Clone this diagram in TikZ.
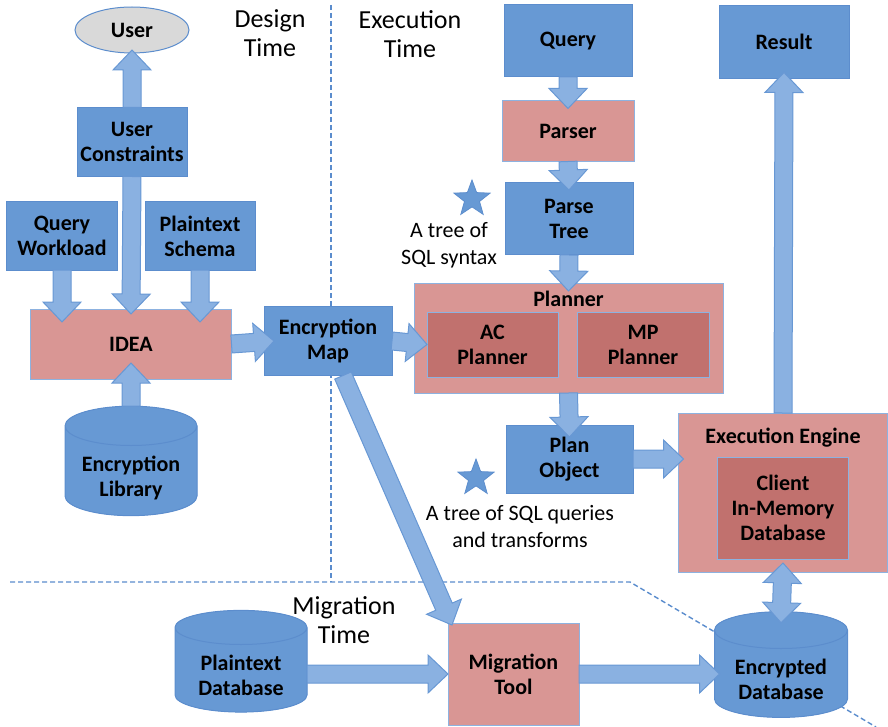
\documentclass[tikz,border=0pt]{standalone}
\usepackage{fontspec}
\setmainfont{Carlito}
\usepackage{tikz}
\usetikzlibrary{shapes,positioning,calc}
\definecolor{boxblue}{RGB}{103,153,212}
\definecolor{boxline}{RGB}{92,141,205}
\definecolor{pinkbox}{RGB}{217,150,148}
\definecolor{darkpink}{RGB}{193,113,110}
\definecolor{pinkline}{RGB}{141,178,224}
\definecolor{dbtop}{RGB}{128,171,222}
\definecolor{userfill}{RGB}{217,217,217}
\definecolor{arrowfill}{RGB}{138,177,225}
\definecolor{arrowline}{RGB}{104,152,212}
\definecolor{dashline}{RGB}{90,140,205}
\tikzstyle{box} = [draw=boxline, fill=boxblue, line width=0.5pt, inner sep=0pt, outer sep=0pt, align=center, font=\bfseries\fontsize{11}{12.5}\selectfont]
\tikzstyle{stage} = [box, fill=pinkbox, draw=pinkline]
\tikzstyle{substage} = [box, fill=darkpink, draw=pinkline]
\tikzstyle{db} = [box, cylinder, shape border rotate=90, aspect=0.4, cylinder uses custom fill, cylinder body fill=boxblue, cylinder end fill=dbtop]
\tikzstyle{phase} = [font=\fontsize{13}{14.5}\selectfont, align=center, inner sep=0pt]
\tikzstyle{note} = [font=\fontsize{11}{13.5}\selectfont, align=center, inner sep=0pt]
\tikzstyle{marker} = [star, star points=5, star point ratio=2.4, fill=boxblue, draw=boxline, line width=0.4pt, minimum size=19pt, inner sep=0pt]
\tikzstyle{fatarrow} = [fill=arrowfill, draw=arrowline, line width=0.5pt]
\tikzstyle{phaseline} = [draw=dashline, line width=0.7pt, dash pattern=on 2.5pt off 1.5pt]

% text of a database, set a little below the middle
\newcommand{\dbtext}[1]{\raisebox{-4pt}[\height][\depth]{\begin{tabular}{@{}c@{}}#1\end{tabular}}}

% block arrow between two points
\newcommand{\fatarrow}[2]{%
  \coordinate (fa1) at #1;
  \coordinate (fa2) at #2;
  \coordinate (fah) at ($(fa2)!10pt!(fa1)$);
  \filldraw[fatarrow] ($(fa1)!4.5pt!90:(fa2)$) -- ($(fah)!4.5pt!90:(fa2)$)
    -- ($(fah)!9.5pt!90:(fa2)$) -- (fa2) -- ($(fah)!9.5pt!-90:(fa2)$)
    -- ($(fah)!4.5pt!-90:(fa2)$) -- ($(fa1)!4.5pt!-90:(fa2)$) -- cycle;
}
% block arrow with two heads
\newcommand{\fatdarrow}[2]{%
  \coordinate (fa1) at #1;
  \coordinate (fa2) at #2;
  \coordinate (fah) at ($(fa2)!10pt!(fa1)$);
  \coordinate (fat) at ($(fa1)!10pt!(fa2)$);
  \filldraw[fatarrow] (fa1) -- ($(fat)!9.5pt!90:(fa2)$) -- ($(fat)!4.5pt!90:(fa2)$)
    -- ($(fah)!4.5pt!90:(fa2)$) -- ($(fah)!9.5pt!90:(fa2)$) -- (fa2)
    -- ($(fah)!9.5pt!-90:(fa2)$) -- ($(fah)!4.5pt!-90:(fa2)$)
    -- ($(fat)!4.5pt!-90:(fa2)$) -- ($(fat)!9.5pt!-90:(fa2)$) -- cycle;
}

\begin{document}
\begin{tikzpicture}[x=0.5pt, y=-0.5pt]
\useasboundingbox (0,0) rectangle (888,727);

% Phase borders
\draw[phaseline] (331,5) -- (331,582);
\draw[phaseline] (10,582) -- (630,582) -- (876,727);

% Phase names
\node[phase] (designtime) at (270,33) {Design\\Time};
\node[phase] (exectime) at (410,34) {Execution\\Time};
\node[phase] (migtime) at (344,620) {Migration\\Time};

% Design time
\node[box, ellipse, fill=userfill, minimum width=57pt, minimum height=23pt] (user) at (132,30) {User};
\node[box, minimum width=55pt, minimum height=34.5pt] (uc) at (132,142) {User\\Constraints};
\node[box, minimum width=55.5pt, minimum height=34pt] (qw) at (62,236) {Query\\Workload};
\node[box, minimum width=55pt, minimum height=34pt] (ps) at (200,236) {Plaintext\\Schema};
\node[stage, minimum width=100.5pt, minimum height=35pt] (idea) at (131,344) {IDEA};
\node[db, minimum width=66pt, minimum height=48.5pt] (enclib) at (131,471) {\dbtext{Encryption\\Library}};
\node[box, minimum width=64pt, minimum height=34.5pt] (encmap) at (328,341) {Encryption\\Map};

% Execution time
\node[box, minimum width=64pt, minimum height=36pt] (query) at (568,41) {Query};
\node[stage, minimum width=66pt, minimum height=30.5pt] (parser) at (568,131) {Parser};
\node[box, minimum width=64pt, minimum height=36pt] (ptree) at (569,219) {Parse\\Tree};
\node[stage, minimum width=154.5pt, minimum height=55pt] (planner) at (568.5,338) {};
\node[box, draw=none, fill=none] (plannerlabel) at (568.5,299) {Planner};
\node[substage, minimum width=65.5pt, minimum height=32.5pt] (acp) at (492.5,344.5) {AC\\Planner};
\node[substage, minimum width=66pt, minimum height=32.5pt] (mpp) at (643,344.5) {MP\\Planner};
\node[box, minimum width=63.5pt, minimum height=34pt] (planobj) at (569.5,459) {Plan\\Object};
\node[stage, minimum width=104.5pt, minimum height=79.5pt] (exec) at (783,492.5) {};
\node[box, draw=none, fill=none] (execlabel) at (783,438) {Execution Engine};
\node[substage, minimum width=65.5pt, minimum height=51pt] (clientdb) at (783,508) {Client\\In-Memory\\Database};
\node[box, minimum width=65pt, minimum height=36.5pt] (result) at (784,42) {Result};

% Notes
\node[marker] (star1) at (472,199) {};
\node[note] (tree1) at (449,245) {A tree of\\SQL syntax};
\node[marker] (star2) at (476,478) {};
\node[note] (tree2) at (520,527) {A tree of SQL queries\\and transforms};

% Migration time
\node[db, minimum width=66pt, minimum height=47.5pt] (plaindb) at (241,670) {\dbtext{Plaintext\\Database}};
\node[stage, minimum width=65.5pt, minimum height=51pt] (migtool) at (513.5,674) {Migration\\Tool};
\node[db, minimum width=66.5pt, minimum height=50pt] (encdb) at (781,674) {\dbtext{Encrypted\\Database}};

% Arrows
\fatarrow{(uc.north)}{([yshift=1.5pt]user.south)}
\fatarrow{(uc.south)}{([yshift=-2.5pt]idea.north)}
\fatarrow{(qw.south)}{([yshift=-6.5pt]qw.south |- idea.north)}
\fatarrow{(ps.south)}{([yshift=-6.5pt]ps.south |- idea.north)}
\fatarrow{(enclib.north)}{([yshift=8pt]idea.south)}
\fatarrow{(idea.east)}{([xshift=5pt]encmap.west)}
\fatarrow{(encmap.east)}{(acp.west)}
\fatarrow{(query.south)}{([yshift=-4pt]parser.north)}
\fatarrow{(parser.south)}{([yshift=-3.5pt]ptree.north)}
\fatarrow{(ptree.south)}{([yshift=-4pt]planner.north)}
\fatarrow{(planner.south)}{([yshift=-6pt]planobj.north)}
\fatarrow{(planobj.east)}{([xshift=2.5pt]exec.west |- planobj.east)}
\fatarrow{(exec.north)}{([yshift=3pt]result.south)}
\fatarrow{([xshift=7.5pt]encmap.south)}{([xshift=2pt,yshift=-1pt]migtool.north west)}
\fatarrow{(plaindb.east |- migtool.west)}{(migtool.west)}
\fatarrow{(migtool.east)}{([xshift=2.5pt]encdb.west)}
\fatdarrow{([yshift=-2pt]clientdb.south)}{([yshift=-5.5pt]encdb.north)}
\end{tikzpicture}
\end{document}
